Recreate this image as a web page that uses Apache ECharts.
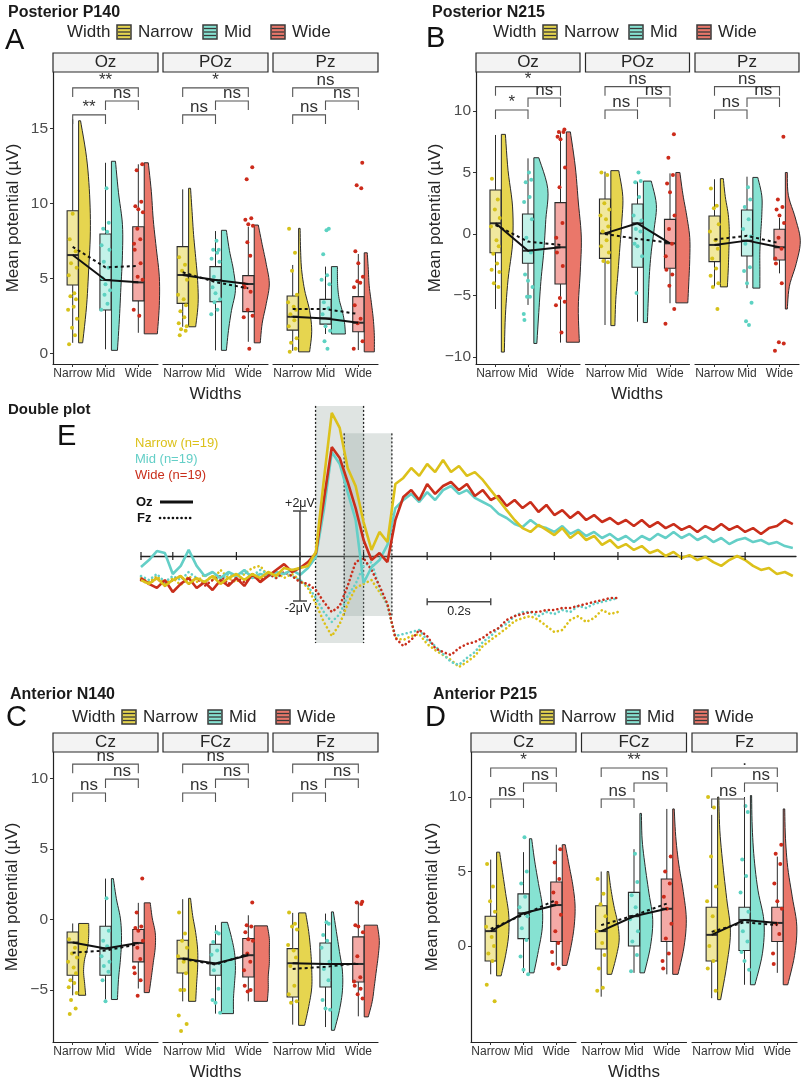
<!DOCTYPE html>
<html>
<head>
<meta charset="utf-8">
<title>Raincloud plots and ERP double plot</title>
<script src="https://cdn.jsdelivr.net/npm/echarts@6.0.0/dist/echarts.min.js"></script>
<style>
html,body{margin:0;padding:0;background:#ffffff;}
#chart{width:802px;height:1082px;}
</style>
</head>
<body>
<div id="chart"></div>
<script>
// ======================= DATA =======================
const widthLevels = ['Narrow', 'Mid', 'Wide'];

// ---- Panel A : Posterior P140 ----
const A_electrodes = ['Oz', 'POz', 'Pz'];
const A_yTicks = [0, 5, 10, 15];
// [lower whisker, Q1, median, Q3, upper whisker] per electrode x width
const A_box = [
  [[0.7, 4.55, 6.55, 9.5, 15.6], [0.27, 2.89, 4.89, 7.95, 12.7], [1.37, 3.5, 4.73, 8.44, 12.6]],
  [[1.77, 3.33, 5.22, 7.11, 10.93], [0.2, 3.44, 4.89, 5.78, 8.15], [0.77, 2.78, 4.62, 5.18, 8.44]],
  [[0.17, 1.55, 2.44, 3.82, 5.89], [1.29, 1.95, 2.33, 3.6, 5.78], [0.22, 1.44, 2.04, 3.78, 6.62]]
];
// [min, max, density at 7 levels bottom->top]
const A_violin = [
  [[0.7, 15.5, 0.27, 0.53, 0.67, 0.78, 0.73, 0.53, 0.13], [0.2, 12.8, 0.4, 0.53, 0.63, 0.73, 0.73, 0.47, 0.27], [1.3, 12.7, 0.87, 1.0, 1.0, 0.8, 0.6, 0.47, 0.27]],
  [[1.77, 11.0, 0.47, 0.63, 0.6, 0.47, 0.33, 0.23, 0.13], [0.2, 8.2, 0.33, 0.47, 0.67, 0.93, 0.8, 0.53, 0.33], [0.7, 8.55, 0.4, 0.53, 0.8, 1.0, 0.8, 0.53, 0.27]],
  [[0.1, 8.33, 0.73, 0.87, 0.73, 0.4, 0.2, 0.13, 0.1], [1.29, 5.78, 0.93, 0.87, 0.73, 0.53, 0.43, 0.4, 0.4], [0.1, 6.7, 0.67, 0.67, 0.6, 0.47, 0.33, 0.27, 0.2]]
];
const A_points = [
  [[0.6, 1.2, 1.7, 2.3, 2.9, 3.1, 3.6, 3.8, 4.0, 5.2, 5.7, 6.0, 6.8, 7.6, 9.3],
   [11.0, 8.7, 8.3, 8.1, 7.2, 6.9, 6.1, 5.7, 5.0, 4.6, 4.2, 3.9, 3.3, 2.9],
   [12.6, 12.2, 10.1, 9.8, 9.6, 9.4, 8.3, 7.6, 7.3, 6.9, 6.0, 5.1, 4.9, 2.9, 2.5]],
  [[6.4, 5.9, 5.5, 4.9, 3.9, 3.6, 3.2, 2.8, 2.4, 2.0, 1.8, 1.6, 1.5, 1.2],
   [7.5, 6.9, 6.9, 6.7, 6.3, 6.1, 5.1, 4.8, 4.4, 4.0, 3.6, 3.4, 2.9, 2.6],
   [12.4, 11.6, 9.0, 8.9, 8.6, 8.5, 7.4, 6.5, 4.6, 4.4, 4.1, 2.9, 2.5, 2.4, 0.3]],
  [[8.3, 6.7, 5.5, 3.9, 3.4, 3.1, 2.9, 2.6, 2.2, 1.8, 1.0, 0.7, 0.3, 0.1],
   [8.2, 8.3, 6.6, 5.2, 4.9, 4.6, 3.4, 3.0, 2.6, 1.8, 1.5, 0.8, 0.3],
   [12.7, 11.2, 11.0, 6.8, 6.0, 5.1, 4.8, 4.7, 4.4, 3.2, 2.3, 2.0, 0.8, 0.3]]
];
const A_mean = [[7.1, 5.73, 5.82], [5.4, 4.75, 4.33], [2.95, 2.95, 2.62]];
const A_sig = [['**', 'ns', '**'], ['*', 'ns', 'ns'], ['ns', 'ns', 'ns']];
const A_sigY = [17.69, 16.82, 15.89];

// ---- Panel B : Posterior N215 ----
const B_electrodes = ['Oz', 'POz', 'Pz'];
const B_yTicks = [-10, -5, 0, 5, 10];
const B_box = [
  [[-6.1, -1.52, 0.87, 3.58, 8.05], [-5.77, -2.38, -1.36, 1.63, 6.15], [-8.83, -4.07, -1.08, 2.55, 8.3]],
  [[-7.4, -1.98, 0.05, 2.85, 5.07], [-7.13, -2.71, 0.87, 2.44, 4.25], [-5.63, -2.79, -0.76, 1.19, 4.93]],
  [[-4.28, -2.25, -0.89, 1.46, 4.45], [-4.41, -1.79, -0.54, 1.95, 4.66], [-3.2, -2.11, -1.08, 0.38, 1.3]]
];
const B_violin = [
  [[-9.6, 8.1, 0.2, 0.27, 0.45, 0.75, 0.75, 0.45, 0.27], [-8.9, 6.2, 0.2, 0.33, 0.47, 0.67, 0.8, 0.93, 0.33], [-8.8, 8.3, 0.87, 0.8, 0.93, 1.0, 0.8, 0.6, 0.27]],
  [[-7.45, 5.15, 0.27, 0.33, 0.47, 0.6, 0.73, 0.8, 0.53], [-7.2, 4.3, 0.27, 0.33, 0.4, 0.53, 0.73, 0.87, 0.53], [-5.6, 5.0, 0.8, 0.87, 0.93, 0.93, 0.73, 0.47, 0.27]],
  [[-4.3, 4.5, 0.47, 0.53, 0.57, 0.6, 0.53, 0.33, 0.2], [-4.4, 4.6, 0.47, 0.47, 0.47, 0.53, 0.6, 0.6, 0.33], [-6.1, 5.0, 0.13, 0.27, 0.73, 1.0, 0.67, 0.2, 0.13]]
];
const B_points = [
  [[4.5, 2.8, 2.0, 1.3, 0.6, -0.5, -1.0, -1.6, -2.4, -2.9, -3.1, -4.0, -4.3],
   [5.0, 4.4, 4.2, 3.0, 2.6, 1.2, -0.3, -1.5, -3.3, -3.8, -4.3, -5.1, -5.1, -6.5, -7.0],
   [8.5, 8.3, 8.3, 7.9, 7.7, 5.4, 3.8, 0.9, -0.3, -1.5, -2.6, -5.2, -5.5, -5.8, -8.0]],
  [[5.0, 4.8, 2.5, 2.0, 1.5, 1.2, 0.6, 0.2, -0.5, -1.0, -1.5, -2.2, -2.3],
   [5.0, 4.3, 4.2, 3.0, 1.5, 1.1, 0.4, 0.2, -0.8, -1.0, -1.8, -4.8],
   [8.1, 6.2, 4.8, 4.1, 3.4, 1.5, 0.4, -0.8, -1.8, -2.9, -3.3, -4.2, -6.1, -7.3]],
  [[3.7, 2.3, 2.1, 0.8, 0.2, -0.5, -1.2, -2.0, -2.8, -3.4, -4.0, -4.3, -6.1],
   [3.8, 2.8, 2.2, 1.2, 0.4, -0.2, -0.8, -2.7, -3.0, -4.0, -5.6, -7.1, -7.4],
   [7.9, 2.8, 2.2, 2.0, 1.5, 0.9, -0.3, -1.2, -2.0, -2.4, -4.0, -8.8, -8.9, -9.5]]
];
const B_mean = [[0.73, -0.62, -0.89], [0.0, -0.4, -0.7], [-0.45, -0.15, -0.75]];
const B_sig = [['*', 'ns', '*'], ['ns', 'ns', 'ns'], ['ns', 'ns', 'ns']];
const B_sigY = [11.98, 11.06, 10.08];

// ---- Panel C : Anterior N140 ----
const C_electrodes = ['Cz', 'FCz', 'Fz'];
const C_yTicks = [-5, 0, 5, 10];
const C_box = [
  [[-5.37, -3.95, -1.63, -0.88, -0.28], [-5.67, -3.95, -2.06, -0.48, 2.9], [-4.89, -3.0, -1.66, -0.71, 1.18]],
  [[-5.8, -3.79, -2.77, -1.47, 1.44], [-6.67, -3.95, -3.12, -1.75, -0.4], [-5.8, -4.07, -2.53, -1.35, 0.3]],
  [[-7.45, -5.49, -3.1, -2.06, 0.47], [-7.62, -4.78, -3.15, -1.66, 0.42], [-6.86, -4.43, -3.15, -1.23, 1.25]]
];
const C_violin = [
  [[-5.37, -0.28, 0.47, 0.4, 0.33, 0.4, 0.6, 0.67, 0.67], [-5.67, 2.9, 0.4, 0.47, 0.6, 0.67, 0.6, 0.33, 0.13], [-5.18, 1.18, 0.33, 0.47, 0.6, 0.73, 0.73, 0.53, 0.4]],
  [[-5.8, 1.5, 0.47, 0.53, 0.6, 0.6, 0.47, 0.27, 0.13], [-6.67, -0.2, 0.8, 0.8, 0.87, 0.93, 0.87, 0.67, 0.4], [-5.8, -0.45, 0.87, 0.93, 0.93, 1.0, 1.0, 1.0, 0.87]],
  [[-7.5, 0.47, 0.4, 0.67, 0.87, 0.87, 0.8, 0.67, 0.47], [-7.85, 0.54, 0.2, 0.53, 0.73, 0.73, 0.53, 0.33, 0.13], [-6.9, -0.4, 0.27, 0.53, 0.67, 0.8, 0.93, 1.0, 0.87]]
];
const C_points = [
  [[-1.4, -2.0, -2.4, -2.7, -3.0, -3.4, -3.8, -4.3, -4.5, -4.8, -5.2, -5.7, -6.3, -6.7],
   [1.5, -0.8, -1.5, -1.9, -2.6, -3.0, -3.3, -3.7, -4.3, -5.8],
   [2.9, 0.5, -0.5, -0.6, -0.8, -1.5, -2.0, -2.8, -3.4, -3.8, -4.3, -5.4]],
  [[0.5, -1.0, -1.5, -2.0, -2.6, -3.0, -3.8, -5.0, -5.0, -6.8, -7.4, -7.9],
   [-0.9, -1.0, -1.6, -2.2, -2.5, -3.1, -3.6, -4.9, -5.7, -5.9, -6.6],
   [1.2, -0.4, -0.5, -0.9, -1.4, -1.5, -2.4, -3.0, -3.6, -4.7, -5.0, -5.1]],
  [[0.5, -0.3, -0.5, -0.7, -1.8, -2.2, -2.7, -3.3, -4.7, -5.3, -5.8, -5.9],
   [-0.2, -0.3, -1.1, -1.5, -2.0, -3.0, -3.5, -4.3, -5.7, -6.3, -6.4],
   [1.25, 1.2, 1.1, -0.4, -0.5, -0.9, -2.6, -4.1, -4.4, -4.7, -4.9, -5.3, -5.6]]
];
const C_mean = [[-2.35, -2.2, -1.75], [-2.8, -3.2, -2.45], [-3.5, -3.35, -3.1]];
const C_sig = [['ns', 'ns', 'ns'], ['ns', 'ns', 'ns'], ['ns', 'ns', 'ns']];
const C_sigY = [11.01, 9.95, 8.96];

// ---- Panel D : Anterior P215 ----
const D_electrodes = ['Cz', 'FCz', 'Fz'];
const D_yTicks = [0, 5, 10];
const D_box = [
  [[-1.9, -1.0, 1.0, 2.0, 5.8], [-1.8, 0.5, 2.2, 3.5, 6.3], [-1.3, 0.3, 2.75, 4.3, 6.8]],
  [[-3.4, -0.2, 1.0, 2.7, 5.0], [-1.8, 0.0, 2.0, 3.6, 6.5], [-1.9, 0.3, 2.5, 4.5, 9.2]],
  [[-3.5, -1.0, 0.75, 2.6, 8.8], [-2.6, -0.3, 1.75, 2.6, 10.0], [-1.8, 0.3, 1.55, 2.6, 6.0]]
];
const D_violin = [
  [[-2.0, 6.3, 0.3, 0.6, 0.8, 0.8, 0.6, 0.4, 0.2], [-1.8, 7.2, 0.3, 0.6, 0.85, 0.85, 0.6, 0.35, 0.15], [-1.3, 6.8, 0.3, 0.6, 0.8, 0.85, 0.7, 0.45, 0.2]],
  [[-1.9, 5.0, 0.3, 0.6, 0.8, 0.7, 0.45, 0.25, 0.1], [-1.8, 8.9, 0.3, 0.7, 0.85, 0.6, 0.35, 0.15, 0.1], [-1.9, 9.2, 0.35, 0.75, 0.9, 0.7, 0.4, 0.2, 0.1]],
  [[-3.6, 10.0, 0.2, 0.6, 0.85, 0.6, 0.35, 0.15, 0.08], [-2.6, 10.1, 0.3, 0.8, 0.9, 0.5, 0.25, 0.12, 0.08], [-2.6, 9.2, 0.3, 0.75, 0.9, 0.6, 0.3, 0.15, 0.1]]
];
const D_points = [
  [[5.5, 4.0, 3.0, 2.3, 1.3, 0.6, 0.0, -0.5, -1.0, -2.6, -3.7],
   [7.3, 5.0, 4.2, 3.3, 2.6, 2.0, 1.2, 0.4, -0.7, -1.6, -1.9],
   [6.5, 5.6, 4.5, 3.6, 2.9, 2.1, 1.0, 0.2, -0.4, -1.2, -1.5]],
  [[4.5, 3.5, 2.8, 2.0, 1.0, 0.2, -0.6, -1.5, -2.8, -3.0],
   [6.2, 4.3, 3.4, 2.6, 1.8, 1.0, 0.3, -0.6, -1.7],
   [6.0, 5.0, 4.2, 3.3, 2.5, 1.5, 0.5, -0.5, -1.0, -1.5]],
  [[10.0, 9.3, 6.0, 4.0, 3.0, 2.0, 1.0, 0.0, -1.0, -1.5, -3.0],
   [9.4, 9.0, 5.8, 4.7, 3.6, 2.3, 1.0, 0.3, -0.4, -1.0, -1.6],
   [6.8, 6.2, 5.5, 4.2, 3.0, 2.5, 1.5, 0.8, -0.5, -1.2]]
];
const D_mean = [[1.15, 2.1, 3.1], [1.4, 2.05, 2.85], [0.95, 1.6, 1.4]];
const D_sig = [['*', 'ns', 'ns'], ['**', 'ns', 'ns'], ['.', 'ns', 'ns']];
const D_sigY = [11.95, 10.94, 9.87];

// ---- Panel E : ERP double plot (µV, sampled every 25 ms from -500 ms) ----
const erpStartMs = -500;
const erpStepMs = 25;
const erpNarrowOz = [-1.07,-1.24,-0.98,-1.33,-1.07,-0.89,-1.24,-0.98,-1.16,-0.89,-1.24,-0.98,-0.8,-1.07,-0.8,-0.98,-0.71,-0.89,-0.53,-0.62,
  -0.53,-0.44,0.18,3.38,6.36,5.69,3.91,3.11,1.51,0.27,1.07,0.62,3.2,3.47,3.91,3.56,4.09,3.73,4.27,3.73,
  4.0,3.56,3.73,3.38,2.93,2.49,2.04,1.6,1.24,1.07,1.38,1.16,0.93,1.24,0.8,1.07,0.71,0.89,0.49,0.71,
  0.36,0.53,0.27,0.44,0.13,0.27,0,0.18,-0.09,0.04,-0.18,-0.04,-0.27,-0.44,-0.18,0,-0.18,-0.44,-0.62,-0.53,
  -0.8,-0.71,-0.89];
const erpMidOz = [-0.49,-0.18,0.22,0.13,-0.8,-0.44,0.27,-0.44,-0.89,-0.71,-0.98,-0.71,-0.89,-0.62,-0.98,-0.8,-0.89,-0.71,-0.8,-0.62,
  -0.84,-0.53,-0.04,2.04,4.62,4.09,2.84,1.6,-1.2,-0.5,-0.18,0.49,2.13,2.49,2.76,2.4,2.84,2.49,2.93,3.11,
  2.76,2.93,2.58,2.4,2.22,1.87,1.69,1.42,1.29,1.6,1.33,1.24,1.07,1.33,0.98,1.16,0.89,1.07,0.8,0.98,
  0.71,0.89,0.62,0.89,0.71,0.98,0.8,1.07,0.8,0.98,0.71,0.89,0.62,0.8,0.53,0.71,0.8,0.62,0.71,0.53,
  0.62,0.44,0.36];
const erpWideOz = [-0.98,-1.24,-1.42,-1.07,-1.6,-1.24,-0.98,-1.42,-1.16,-1.51,-1.07,-1.33,-0.98,-1.33,-0.8,-1.16,-0.89,-0.62,-0.36,-0.71,
  -0.53,-0.27,0.13,2.49,4.84,4.36,3.29,2.13,0.71,-0.18,0.13,-0.27,1.6,2.62,2.93,2.49,3.2,2.76,3.11,3.29,
  2.93,3.2,2.67,2.93,2.49,2.67,2.22,2.49,2.13,2.4,1.96,2.27,1.82,2.04,1.69,1.96,1.6,1.82,1.51,1.69,
  1.42,1.6,1.33,1.6,1.29,1.51,1.24,1.42,1.16,1.33,1.07,1.33,1.16,1.42,1.16,1.33,1.07,1.24,0.98,1.24,
  1.33,1.6,1.42];
const erpNarrowFz = [-0.98,-1.16,-0.89,-1.24,-0.98,-1.29,-0.89,-1.16,-0.8,-1.07,-0.62,-0.98,-1.16,-0.8,-0.53,-0.44,-0.89,-0.71,-0.98,-0.8,
  -1.07,-1.42,-2.13,-2.93,-3.56,-3.02,-2.13,-1.42,-1.24,-1.07,-1.6,-2.13,-3.64,-3.73,-3.56,-3.47,-3.91,-4.18,-4.4,-4.62,
  -4.93,-4.71,-4.44,-4.0,-3.73,-3.47,-3.2,-2.89,-2.76,-2.67,-2.84,-3.11,-3.38,-3.29,-2.84,-2.67,-2.93,-2.76,-2.4,-2.58,
  -2.49];
const erpMidFz = [-0.89,-1.07,-0.8,-1.16,-0.89,-1.07,-0.71,-0.98,-1.16,-0.89,-1.07,-0.8,-0.98,-0.71,-0.89,-0.62,-0.8,-0.98,-0.71,-0.89,
  -1.07,-1.33,-1.87,-2.49,-2.93,-2.58,-1.78,-1.24,-0.44,-0.27,-1.42,-2.22,-3.56,-3.47,-3.38,-3.29,-3.73,-4.0,-4.36,-4.71,
  -4.84,-4.53,-4.27,-3.82,-3.56,-3.2,-3.02,-2.67,-2.49,-2.49,-2.67,-2.49,-2.58,-2.4,-2.49,-2.22,-2.31,-2.13,-2.04,-1.96,
  -1.87];
const erpWideFz = [-1.07,-1.24,-0.98,-1.33,-1.07,-0.89,-1.24,-0.98,-1.33,-1.07,-0.89,-1.24,-0.98,-1.16,-0.89,-1.07,-0.8,-0.98,-0.71,-0.89,
  -1.16,-1.24,-1.51,-2.04,-2.49,-2.22,-1.33,-0.27,-0.09,-0.62,-1.33,-2.13,-3.64,-4.0,-3.73,-3.29,-3.56,-4.09,-4.27,-4.4,
  -4.09,-3.91,-3.82,-3.64,-3.38,-3.2,-2.84,-2.67,-2.58,-2.49,-2.49,-2.4,-2.4,-2.31,-2.31,-2.22,-2.13,-2.04,-1.96,-1.87,
  -1.87];
// analysis windows [start ms, end ms, low µV, high µV]
const erpWindows = [[49, 200, -3.87, 6.67], [139, 289, -2.67, 5.45]];
const erpTicksMs = [-500, -400, -200, 0, 200, 400, 600, 800, 1000, 1200, 1400];
const erpVoltBar = [[0, 2]];          // +/-2 µV scale at 0 ms
const erpTimeBar = [[400, 600, -2.03]]; // 0.2 s scale bar
const erpLegend = ['Narrow (n=19)', 'Mid (n=19)', 'Wide (n=19)'];

// ======================= STYLE / LAYOUT =======================
const FONT = '"Liberation Sans", Arial, Helvetica, sans-serif';
const VIOLIN_FILL = ['#E6D54F', '#86E2D2', '#EA776A'];
const BOX_FILL = ['#F1E89E', '#C3F2E9', '#F4AAA6'];
const POINT_FILL = ['#D6C21A', '#5DD2C2', '#CC2B1B'];
const ERP_COL = ['#DCC11A', '#64CFC7', '#C92E1B'];
const INK = '#2b2b2b';
const TXT = '#262626';
const BOXW = 0.17, VOFF = 0.18, VW = 0.46;
const JIT = [-0.11, 0.07, -0.02, 0.13, -0.14, 0.03, 0.10, -0.07, 0.05, -0.12, 0.12, -0.05, 0.09, -0.09, 0.0, 0.14, -0.03, 0.06, -0.13];

const LAYOUT = {
  A: {lefts: [53, 163, 273], w: 105, top: 72, bottom: 364, yMin: -0.71, yMax: 18.75, title: [8, 13], letter: [5, 41], legend: [67, 32], yName: [13, 218], xName: [215.5, 394]},
  B: {lefts: [476, 585.5, 695], w: 104, top: 72, bottom: 364, yMin: -10.57, yMax: 13.17, title: [432, 13], letter: [426, 39], legend: [493, 32], yName: [435, 218], xName: [637, 394]},
  C: {lefts: [53, 163, 273], w: 105, top: 752, bottom: 1042, yMin: -8.68, yMax: 11.87, title: [10, 695], letter: [6, 718], legend: [72, 717], yName: [12, 897], xName: [215.5, 1072]},
  D: {lefts: [471, 581.5, 692], w: 105, top: 752, bottom: 1042, yMin: -6.44, yMax: 13.02, title: [433, 695], letter: [425, 718], legend: [490, 717], yName: [432, 897], xName: [634, 1072]}
};

const PANELS = [
  {key: 'A', title: 'Posterior P140', elec: A_electrodes, yTicks: A_yTicks, box: A_box, violin: A_violin, points: A_points, mean: A_mean, sig: A_sig, sigY: A_sigY},
  {key: 'B', title: 'Posterior N215', elec: B_electrodes, yTicks: B_yTicks, box: B_box, violin: B_violin, points: B_points, mean: B_mean, sig: B_sig, sigY: B_sigY},
  {key: 'C', title: 'Anterior N140', elec: C_electrodes, yTicks: C_yTicks, box: C_box, violin: C_violin, points: C_points, mean: C_mean, sig: C_sig, sigY: C_sigY},
  {key: 'D', title: 'Anterior P215', elec: D_electrodes, yTicks: D_yTicks, box: D_box, violin: D_violin, points: D_points, mean: D_mean, sig: D_sig, sigY: D_sigY}
];

// ======================= HELPERS =======================
function catmull(pts, sub) {
  const out = [];
  for (let i = 0; i < pts.length - 1; i++) {
    const p0 = pts[Math.max(i - 1, 0)], p1 = pts[i], p2 = pts[i + 1], p3 = pts[Math.min(i + 2, pts.length - 1)];
    for (let s = 0; s < sub; s++) {
      const t = s / sub, t2 = t * t, t3 = t2 * t;
      const f = (a, b, c, d) => 0.5 * (2 * b + (-a + c) * t + (2 * a - 5 * b + 4 * c - d) * t2 + (-a + 3 * b - 3 * c + d) * t3);
      out.push([f(p0[0], p1[0], p2[0], p3[0]), f(p0[1], p1[1], p2[1], p3[1])]);
    }
  }
  out.push(pts[pts.length - 1]);
  return out;
}

function renderViolin(params, api) {
  const cat = api.value(0), vmin = api.value(1), vmax = api.value(2), g = api.value(10);
  const n = 7, base = cat + VOFF;
  const right = [];
  for (let k = n - 1; k >= 0; k--) {
    const v = vmin + (vmax - vmin) * k / (n - 1);
    right.push(api.coord([base + api.value(3 + k) * VW, v]));
  }
  const top = api.coord([base, vmax]), bot = api.coord([base, vmin]);
  const smooth = catmull(right, 6).map(p => [Math.max(p[0], top[0] + 0.5), p[1]]);
  return {
    type: 'polygon', shape: {points: [top].concat(smooth, [bot])},
    style: {fill: VIOLIN_FILL[g], stroke: INK, lineWidth: 1}
  };
}

function renderBox(params, api) {
  const x = api.value(0), lo = api.value(1), q1 = api.value(2), med = api.value(3), q3 = api.value(4), hi = api.value(5), g = api.value(6);
  const a = api.coord([x - BOXW, q3]), b = api.coord([x + BOXW, q1]);
  const cx = api.coord([x, med])[0];
  const yLo = api.coord([x, lo])[1], yHi = api.coord([x, hi])[1], yMed = api.coord([x, med])[1];
  return {type: 'group', children: [
    {type: 'line', shape: {x1: cx, y1: yHi, x2: cx, y2: a[1]}, style: {stroke: INK, lineWidth: 1}},
    {type: 'line', shape: {x1: cx, y1: b[1], x2: cx, y2: yLo}, style: {stroke: INK, lineWidth: 1}},
    {type: 'rect', shape: {x: a[0], y: a[1], width: b[0] - a[0], height: b[1] - a[1]}, style: {fill: BOX_FILL[g], stroke: INK, lineWidth: 1.1}},
    {type: 'line', shape: {x1: a[0], y1: yMed, x2: b[0], y2: yMed}, style: {stroke: INK, lineWidth: 2}}
  ]};
}

function makeBracketRender(labels) {
  return function (params, api) {
    const x1 = api.value(0), x2 = api.value(1), y = api.value(2), li = api.value(3);
    const p1 = api.coord([x1, y]), p2 = api.coord([x2, y]);
    const tip = 9;
    return {type: 'group', children: [
      {type: 'polyline', shape: {points: [[p1[0], p1[1] + tip], [p1[0], p1[1]], [p2[0], p2[1]], [p2[0], p2[1] + tip]]},
        style: {stroke: '#555', lineWidth: 1.1, fill: null}},
      {type: 'text', style: {text: labels[li], x: (p1[0] + p2[0]) / 2, y: p1[1] + 1, fontSize: 17, fontFamily: FONT, fill: '#333',
        align: 'center', verticalAlign: 'bottom', textAlign: 'center', textVerticalAlign: 'bottom'}}
    ]};
  };
}

function gText(str, x, y, size, color, align, weight, rot) {
  return {type: 'text', x: x, y: y, rotation: rot || 0, z: 50,
    style: {text: str, fontSize: size, fontFamily: FONT, fontWeight: weight || 'normal', fill: color,
      align: align || 'left', verticalAlign: 'middle', textAlign: align || 'left', textVerticalAlign: 'middle'}};
}

const minus = v => String(v).replace('-', '\u2212');

// ======================= BUILD OPTION =======================
const option = {animation: false, backgroundColor: '#ffffff', grid: [], xAxis: [], yAxis: [], series: [], graphic: []};

PANELS.forEach((P, pi) => {
  const L = LAYOUT[P.key];
  option.graphic.push(gText(P.title, L.title[0], L.title[1], 16, '#1a1a1a', 'left', 'bold'));
  option.graphic.push(gText(P.key, L.letter[0], L.letter[1], 29, '#111', 'left'));
  const lx = L.legend[0], ly = L.legend[1];
  option.graphic.push(gText('Width', lx, ly, 17, TXT, 'left'));
  const keyX = [lx + 50, lx + 136, lx + 204], labX = [lx + 71, lx + 157, lx + 225];
  widthLevels.forEach((w, g) => {
    option.graphic.push({type: 'rect', z: 50, shape: {x: keyX[g], y: ly - 7, width: 14, height: 14}, style: {fill: VIOLIN_FILL[g], stroke: '#3a3a3a', lineWidth: 1.5}});
    [-3.5, 0, 3.5].forEach(d => option.graphic.push({type: 'line', z: 51, shape: {x1: keyX[g] + 1, y1: ly + d, x2: keyX[g] + 13, y2: ly + d}, style: {stroke: '#3a3a3a', lineWidth: 1.3}}));
    option.graphic.push(gText(w, labX[g], ly, 17, TXT, 'left'));
  });
  option.graphic.push(gText('Mean potential (\u00b5V)', L.yName[0], L.yName[1], 17, TXT, 'center', 'normal', Math.PI / 2));
  option.graphic.push(gText('Widths', L.xName[0], L.xName[1], 17, TXT, 'center'));

  P.elec.forEach((el, f) => {
    const gi = pi * 3 + f;
    const left = L.lefts[f];
    option.graphic.push({type: 'rect', z: 40, shape: {x: left, y: L.top - 19, width: L.w, height: 19}, style: {fill: '#f3f3f3', stroke: '#2a2a2a', lineWidth: 1.2}});
    option.graphic.push(gText(el, left + L.w / 2, L.top - 9.5, 17, TXT, 'center'));

    option.grid.push({left: left, top: L.top, width: L.w, height: L.bottom - L.top, containLabel: false, outerBoundsMode: 'none'});
    option.xAxis.push({
      type: 'value', gridIndex: gi, min: 0.4, max: 3.6,
      axisLine: {show: true, onZero: false, lineStyle: {color: '#222', width: 1.2}},
      axisTick: {show: true, customValues: [1, 2, 3], length: 3, lineStyle: {color: '#333', width: 1}},
      axisLabel: {show: true, customValues: [1, 2, 3], formatter: v => widthLevels[Math.round(v) - 1], fontSize: 12, fontFamily: FONT, color: '#333', margin: 4},
      splitLine: {show: false}
    });
    option.yAxis.push({
      type: 'value', gridIndex: gi, min: L.yMin, max: L.yMax,
      axisLine: {show: f === 0, onZero: false, lineStyle: {color: '#222', width: 1.2}},
      axisTick: {show: f === 0, customValues: P.yTicks, length: 3, lineStyle: {color: '#333', width: 1}},
      axisLabel: {show: f === 0, customValues: P.yTicks, formatter: minus, fontSize: 15.5, fontFamily: FONT, color: '#4d4d4d', margin: 5},
      splitLine: {show: false}
    });

    const vioData = P.violin[f].map((v, g) => [g + 1].concat(v, [g]));
    const boxData = P.box[f].map((b, g) => [g + 1].concat(b, [g]));
    const ptData = [];
    P.points[f].forEach((arr, g) => arr.forEach((val, k) => {
      ptData.push({value: [g + 1 + JIT[(k + 5 * g) % JIT.length], val], itemStyle: {color: POINT_FILL[g]}});
    }));
    const medData = P.box[f].map((b, g) => [g + 1, b[2]]);
    const meanData = P.mean[f].map((m, g) => [g + 1, m]);
    const brData = [[1, 3, P.sigY[0], 0], [2, 3, P.sigY[1], 1], [1, 2, P.sigY[2], 2]];

    option.series.push(
      {type: 'custom', xAxisIndex: gi, yAxisIndex: gi, renderItem: renderViolin, data: vioData, z: 2, silent: true},
      {type: 'custom', xAxisIndex: gi, yAxisIndex: gi, renderItem: renderBox, data: boxData, z: 3, silent: true},
      {type: 'scatter', xAxisIndex: gi, yAxisIndex: gi, data: ptData, symbolSize: 4, z: 4, silent: true, itemStyle: {opacity: 1}},
      {type: 'line', xAxisIndex: gi, yAxisIndex: gi, data: medData, symbol: 'none', z: 6, silent: true, lineStyle: {color: '#111', width: 2}},
      {type: 'line', xAxisIndex: gi, yAxisIndex: gi, data: meanData, symbol: 'none', z: 6, silent: true, lineStyle: {color: '#111', width: 2, type: [3, 3]}},
      {type: 'custom', xAxisIndex: gi, yAxisIndex: gi, renderItem: makeBracketRender(P.sig[f]), data: brData, z: 7, silent: true, clip: false}
    );
  });
});

// ---------- Panel E (ERP) ----------
const EGI = 12;
option.grid.push({left: 141, top: 400, width: 655, height: 280, containLabel: false, outerBoundsMode: 'none'});
option.xAxis.push({type: 'value', gridIndex: EGI, min: -500, max: 1560,
  axisLine: {show: true, onZero: true, lineStyle: {color: '#222', width: 1.3}}, axisTick: {show: false}, axisLabel: {show: false}, splitLine: {show: false}});
option.yAxis.push({type: 'value', gridIndex: EGI, min: -5.5111, max: 6.9333, show: false, axisLine: {onZero: false}, splitLine: {show: false}});

const toSeries = arr => arr.map((v, i) => [erpStartMs + i * erpStepMs, v]);

option.series.push({
  type: 'custom', xAxisIndex: EGI, yAxisIndex: EGI, data: erpWindows, z: 1, silent: true, clip: false,
  renderItem: function (params, api) {
    const a = api.coord([api.value(0), api.value(3)]), b = api.coord([api.value(1), api.value(2)]);
    return {type: 'group', children: [
      {type: 'rect', shape: {x: a[0], y: a[1], width: b[0] - a[0], height: b[1] - a[1]}, style: {fill: 'rgba(150,166,160,0.30)'}},
      {type: 'line', shape: {x1: a[0], y1: a[1], x2: a[0], y2: b[1]}, style: {stroke: '#222', lineWidth: 1.3, lineDash: [2, 2]}},
      {type: 'line', shape: {x1: b[0], y1: a[1], x2: b[0], y2: b[1]}, style: {stroke: '#222', lineWidth: 1.3, lineDash: [2, 2]}}
    ]};
  }
});

[[erpNarrowFz, 0], [erpMidFz, 1], [erpWideFz, 2]].forEach(([arr, g]) => option.series.push({
  type: 'line', xAxisIndex: EGI, yAxisIndex: EGI, data: toSeries(arr), symbol: 'none', z: 2, silent: true,
  lineStyle: {color: ERP_COL[g], width: 2.6, type: [0.1, 4.2], cap: 'round'}
}));
[[erpMidOz, 1], [erpWideOz, 2], [erpNarrowOz, 0]].forEach(([arr, g]) => option.series.push({
  type: 'line', xAxisIndex: EGI, yAxisIndex: EGI, data: toSeries(arr), symbol: 'none', z: 3, silent: true,
  lineStyle: {color: ERP_COL[g], width: 2.6}
}));

option.series.push({
  type: 'custom', xAxisIndex: EGI, yAxisIndex: EGI, data: erpTicksMs.map(t => [t, 0]), z: 4, silent: true, clip: false,
  renderItem: function (params, api) {
    const p = api.coord([api.value(0), 0]);
    return {type: 'line', shape: {x1: p[0], y1: p[1] - 4, x2: p[0], y2: p[1] + 4}, style: {stroke: '#222', lineWidth: 1.2}};
  }
});
option.series.push({
  type: 'custom', xAxisIndex: EGI, yAxisIndex: EGI, data: erpVoltBar, z: 4, silent: true, clip: false,
  renderItem: function (params, api) {
    const t = api.value(0), v = api.value(1);
    const a = api.coord([t, v]), b = api.coord([t, -v]);
    return {type: 'group', children: [
      {type: 'line', shape: {x1: a[0], y1: a[1], x2: b[0], y2: b[1]}, style: {stroke: '#444', lineWidth: 1.5}},
      {type: 'line', shape: {x1: a[0] - 7, y1: a[1], x2: a[0] + 7, y2: a[1]}, style: {stroke: '#444', lineWidth: 1.5}},
      {type: 'line', shape: {x1: b[0] - 7, y1: b[1], x2: b[0] + 7, y2: b[1]}, style: {stroke: '#444', lineWidth: 1.5}},
      {type: 'text', style: {text: '+' + v + '\u03bcV', x: a[0], y: a[1] - 1, fontSize: 12.5, fontFamily: FONT, fill: '#222', align: 'center', verticalAlign: 'bottom', textAlign: 'center', textVerticalAlign: 'bottom'}},
      {type: 'text', style: {text: '-' + v + '\u03bcV', x: b[0] - 2, y: b[1] + 1, fontSize: 12.5, fontFamily: FONT, fill: '#222', align: 'center', verticalAlign: 'top', textAlign: 'center', textVerticalAlign: 'top'}}
    ]};
  }
});
option.series.push({
  type: 'custom', xAxisIndex: EGI, yAxisIndex: EGI, data: erpTimeBar, z: 4, silent: true, clip: false,
  renderItem: function (params, api) {
    const a = api.coord([api.value(0), api.value(2)]), b = api.coord([api.value(1), api.value(2)]);
    return {type: 'group', children: [
      {type: 'line', shape: {x1: a[0], y1: a[1], x2: b[0], y2: b[1]}, style: {stroke: '#444', lineWidth: 1.4}},
      {type: 'line', shape: {x1: a[0], y1: a[1] - 3.5, x2: a[0], y2: a[1] + 3.5}, style: {stroke: '#444', lineWidth: 1.4}},
      {type: 'line', shape: {x1: b[0], y1: b[1] - 3.5, x2: b[0], y2: b[1] + 3.5}, style: {stroke: '#444', lineWidth: 1.4}},
      {type: 'text', style: {text: ((api.value(1) - api.value(0)) / 1000) + 's', x: (a[0] + b[0]) / 2, y: a[1] + 3, fontSize: 12.5, fontFamily: FONT, fill: '#222', align: 'center', verticalAlign: 'top', textAlign: 'center', textVerticalAlign: 'top'}}
    ]};
  }
});

// ERP legend & titles
option.graphic.push(gText('Double plot', 8, 410, 15, '#1a1a1a', 'left', 'bold'));
option.graphic.push(gText('E', 57, 437, 29, '#111', 'left'));
erpLegend.forEach((s, g) => option.graphic.push(gText(s, 135, 443 + g * 16, 13, ERP_COL[g], 'left')));
option.graphic.push(gText('Oz', 136, 502, 13, '#111', 'left', 'bold'));
option.graphic.push({type: 'line', z: 50, shape: {x1: 160, y1: 502, x2: 193, y2: 502}, style: {stroke: '#111', lineWidth: 3}});
option.graphic.push(gText('Fz', 137, 518, 13, '#111', 'left', 'bold'));
option.graphic.push({type: 'line', z: 50, shape: {x1: 160, y1: 518, x2: 194, y2: 518}, style: {stroke: '#111', lineWidth: 2.6, lineDash: [0.1, 4.2], lineCap: 'round'}});

const chart = echarts.init(document.getElementById('chart'), null, {renderer: 'canvas', width: 802, height: 1082});
chart.setOption(option);
</script>
</body>
</html>
